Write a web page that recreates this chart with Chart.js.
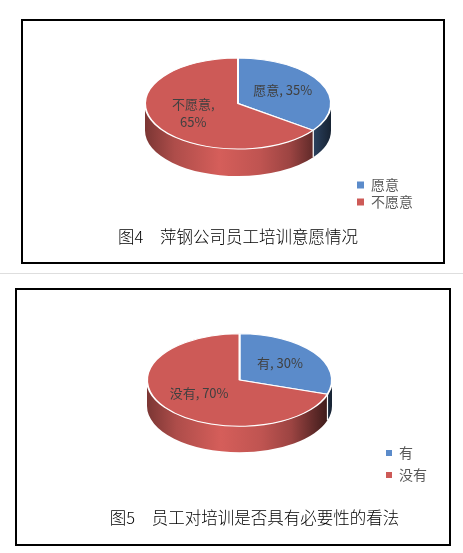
<!DOCTYPE html>
<html><head><meta charset="utf-8">
<script src="https://cdn.jsdelivr.net/npm/chart.js@4/dist/chart.umd.min.js"></script>
<style>
html,body{margin:0;padding:0;background:#fff;width:463px;height:553px;overflow:hidden;position:relative}
.box{position:absolute;border:2px solid #000;box-sizing:content-box;background:#fff}
#box1{left:21px;top:19px;width:420px;height:241px}
#box2{left:15px;top:288px;width:432px;height:254px}
.sep{position:absolute;left:0;top:273px;width:463px;height:1px;background:#dedede}
canvas{display:block}
</style></head><body>
<div class="box" id="box1"><canvas id="c1" width="420" height="241"></canvas></div>
<div class="sep"></div>
<div class="box" id="box2"><canvas id="c2" width="432" height="254"></canvas></div>
<script>
// ---- data ----
const categories1 = ['愿意', '不愿意'];
const values1 = [35, 65];
const title1 = '图4\u3000萍钢公司员工培训意愿情况';

const categories2 = ['有', '没有'];
const values2 = [30, 70];
const title2 = '图5\u3000员工对培训是否具有必要性的看法';

const sliceColors = ['#5b8bca', '#cd5a57'];

// ---- helpers ----
const FONT = '"Noto Sans CJK SC", "Noto Sans", sans-serif';
Chart.defaults.font.family = FONT;
const TAU = Math.PI * 2;
const sideShade = [[0, 0.6], [0.16, 0.85], [0.4, 1.04], [0.62, 0.93], [0.78, 0.76], [0.9, 0.48], [1, 0.25]];
function shade(hex, m) {
  const n = parseInt(hex.slice(1), 16);
  const c = [(n >> 16) & 255, (n >> 8) & 255, n & 255].map(v => Math.max(0, Math.min(255, Math.round(v * m))));
  return `rgb(${c[0]},${c[1]},${c[2]})`;
}

const pie3d = {
  id: 'pie3d',
  afterLayout(chart, args, opts) {
    // let the caption run wider than the plot area (as in the original figure)
    const t = chart.titleBlock;
    if (t) {
      const s = opts.titleShift || 0;
      t.left += s - 80; t.right += s + 80; t.width += 160;
    }
  },
  beforeDatasetsDraw(chart, args, opts) {
    const ctx = chart.ctx;
    const meta = chart.getDatasetMeta(0);
    const k = opts.tilt, depth = opts.depth;
    ctx.save();
    meta.data.forEach(arc => {
      const p = arc.getProps(['x', 'y', 'startAngle', 'endAngle', 'outerRadius'], true);
      const R = p.outerRadius;
      const base = arc.options.backgroundColor;
      for (let n = -1; n <= 1; n++) {
        const a = Math.max(p.startAngle, n * TAU);
        const b = Math.min(p.endAngle, n * TAU + Math.PI);
        if (b <= a) continue;
        ctx.beginPath();
        ctx.ellipse(p.x, p.y, R, R * k, 0, a, b);
        ctx.ellipse(p.x, p.y + depth, R, R * k, 0, b, a, true);
        ctx.closePath();
        const g = ctx.createLinearGradient(p.x - R, 0, p.x + R, 0);
        sideShade.forEach(([t, m]) => g.addColorStop(t, shade(base, m)));
        ctx.fillStyle = g;
        ctx.fill();
      }
    });
    ctx.strokeStyle = '#ffffff';
    ctx.lineWidth = 1.2;
    meta.data.forEach(arc => {
      const p = arc.getProps(['x', 'y', 'startAngle', 'outerRadius'], true);
      const s = ((p.startAngle % TAU) + TAU) % TAU;
      if (s > 0.02 && s < Math.PI - 0.02) {
        const x = p.x + p.outerRadius * Math.cos(s);
        const y = p.y + p.outerRadius * k * Math.sin(s);
        ctx.beginPath(); ctx.moveTo(x, y); ctx.lineTo(x, y + depth); ctx.stroke();
      }
    });
    ctx.restore();
    const cx = meta.data[0].x, cy = meta.data[0].y;
    ctx.save();
    ctx.translate(cx, cy); ctx.scale(1, k); ctx.translate(-cx, -cy);
  },
  afterDatasetsDraw(chart, args, opts) {
    const ctx = chart.ctx;
    ctx.restore();
    const meta = chart.getDatasetMeta(0);
    const ds = chart.data.datasets[0];
    ctx.save();
    ctx.font = '13px ' + FONT;
    ctx.fillStyle = '#404040';
    ctx.textAlign = 'center';
    ctx.textBaseline = 'middle';
    meta.data.forEach((arc, i) => {
      const p = arc.getProps(['x', 'y', 'startAngle', 'endAngle', 'outerRadius'], true);
      const mid = (p.startAngle + p.endAngle) / 2;
      const r = p.outerRadius * opts.labelRadius;
      const x = p.x + r * Math.cos(mid);
      const y = p.y + r * opts.tilt * Math.sin(mid) + opts.labelShift;
      let lines = [`${chart.data.labels[i]}, ${ds.data[i]}%`];
      if (ctx.measureText(lines[0]).width > opts.wrapWidth) lines = [`${chart.data.labels[i]},`, `${ds.data[i]}%`];
      lines.forEach((t, j) => ctx.fillText(t, x, y + (j - (lines.length - 1) / 2) * 18));
    });
    ctx.restore();
  }
};

function legendLabels(chart) {
  const items = Chart.overrides.doughnut.plugins.legend.labels.generateLabels(chart);
  items.forEach(it => { it.lineWidth = 0; it.strokeStyle = 'rgba(0,0,0,0)'; });
  return items;
}

function makeChart(id, labels, values, title, cfg) {
  return new Chart(document.getElementById(id), {
    type: 'pie',
    data: {
      labels: labels,
      datasets: [{
        data: values,
        backgroundColor: sliceColors,
        borderColor: '#ffffff',
        borderWidth: 2,
        radius: cfg.radius,
        clip: false
      }]
    },
    options: {
      responsive: false,
      animation: false,
      events: [],
      layout: { padding: cfg.padding },
      plugins: {
        tooltip: { enabled: false },
        legend: {
          position: 'right',
          align: 'end',
          fullSize: true,
          labels: {
            boxWidth: cfg.box, boxHeight: cfg.box,
            padding: cfg.legendPad,
            color: '#595959',
            font: { size: 14, family: FONT },
            generateLabels: legendLabels
          }
        },
        title: {
          display: true,
          position: 'bottom',
          fullSize: false,
          text: title,
          color: '#000000',
          font: { size: 16.5, weight: '300', family: FONT, lineHeight: 1.2 },
          padding: cfg.titlePad
        },
        pie3d: { tilt: cfg.tilt, depth: cfg.depth, labelRadius: 0.54, labelShift: -2, wrapWidth: 65, titleShift: cfg.titleShift }
      }
    },
    plugins: [pie3d]
  });
}

makeChart('c1', categories1, values1, title1, {
  radius: 93, tilt: 0.49, depth: 27, box: 7, legendPad: 3, titleShift: 0,
  padding: { left: 99, right: 20, top: 0, bottom: 50 },
  titlePad: { top: 41.1, bottom: -34.9 }
});
makeChart('c2', categories2, values2, title2, {
  radius: 92.5, tilt: 0.5, depth: 26, box: 6, legendPad: 8, titleShift: 15,
  padding: { left: 84, right: 12, top: 0, bottom: 54 },
  titlePad: { top: 38.1, bottom: -37.9 }
});
</script></body></html>
